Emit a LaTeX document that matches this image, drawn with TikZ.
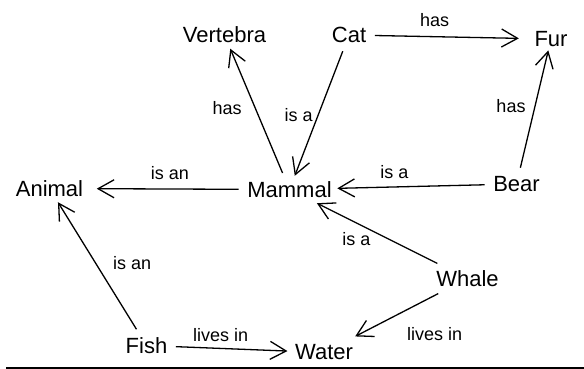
\documentclass[tikz,border=0pt]{standalone}
\usepackage{fontspec}
\setmainfont{Liberation Sans}
\usetikzlibrary{arrows.meta}
\begin{document}
\begin{tikzpicture}[x=1pt,y=-1pt]
\path[use as bounding box] (0,0) rectangle (584,369);

\tikzstyle{every node}+=[inner sep=5pt,font=\fontsize{22}{25}\selectfont]
\tikzstyle{every path}+=[line width=1.3pt]
\tikzstyle{rel}=[-{Straight Barb[length=16pt,width=18pt]},shorten <=3pt]
\tikzstyle{lbl}=[inner sep=3pt,font=\fontsize{18}{21}\selectfont]

\node (vertebra) at (224.5,35) {Vertebra};
\node (cat) at (349,35) {Cat};
\node (fur) at (551,39) {Fur};
\node (animal) at (49.5,188.5) {Animal};
\node (mammal) at (289.5,189.5) {Mammal};
\node (bear) at (516.5,184) {Bear};
\node (whale) at (467.5,278.5) {Whale};
\node (fish) at (146.5,345.5) {Fish};
\node (water) at (324,352.5) {Water};

\draw[rel] (mammal) edge node[lbl,pos=.53,left=10pt] {has} (vertebra)
           (cat) edge node[lbl,pos=.52,left=2pt] {is a} (mammal)
           (cat) edge[shorten >=10pt] node[lbl,pos=.4,above=6pt] {has} (fur)
           (bear) edge[shorten >=-2pt] node[lbl,pos=.55,left=6pt] {has} (fur)
           (bear) edge node[lbl,pos=.62,above=5pt] {is a} (mammal)
           (mammal) edge[shorten >=8pt] node[lbl,pos=.47,above=6pt] {is an} (animal)
           (whale) edge node[lbl,pos=.68,below=6pt] {is a} (mammal)
           (fish) edge node[lbl,pos=.53,right=14pt] {is an} (animal)
           (fish) edge[shorten >=2pt] node[lbl,pos=.41,above=3pt] {lives in} (water)
           (whale) edge[shorten >=6pt] node[lbl,pos=.75,right=31pt,yshift=-7pt] {lives in} (water);

% rule under the picture
\draw[line width=1.5pt] (6,368) -- (584,368);
\end{tikzpicture}
\end{document}
